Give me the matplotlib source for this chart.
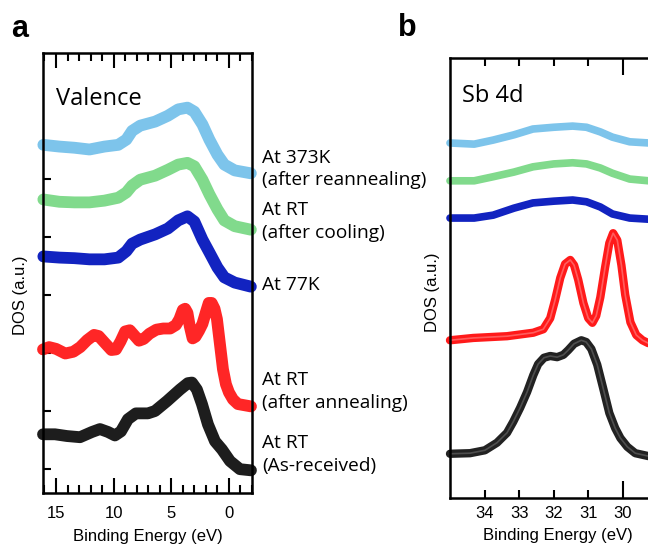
import matplotlib
matplotlib.use('Agg')
import matplotlib.pyplot as plt
from matplotlib.ticker import MultipleLocator, FixedLocator, FormatStrFormatter

# ---- panel a: valence band (binding energy in eV, DOS in a.u. with offsets)
val_e = [16.1, 14.7, 13.4, 12.1, 10.8, 9.6, 8.9, 8.4, 7.7, 6.4, 5.3, 4.4, 3.6, 3.0,
         2.3, 1.7, 1.0, 0.4, -0.5, -1.9]
val_373k = [5.58, 5.55, 5.53, 5.50, 5.55, 5.58, 5.67, 5.82, 5.91, 5.98, 6.08, 6.19,
            6.22, 6.15, 5.93, 5.67, 5.41, 5.24, 5.14, 5.09]
val_cool = [4.64, 4.60, 4.59, 4.59, 4.62, 4.67, 4.76, 4.88, 4.98, 5.05, 5.15, 5.24,
            5.27, 5.21, 4.98, 4.73, 4.47, 4.28, 4.18, 4.12]
val_77k = [3.66, 3.64, 3.63, 3.61, 3.61, 3.64, 3.75, 3.88, 3.95, 4.04, 4.14, 4.28,
           4.35, 4.26, 3.95, 3.73, 3.47, 3.30, 3.21, 3.14]

val_ann_e = [16.13, 15.6, 15.0, 14.2, 13.5, 12.9, 12.3, 11.7, 11.3, 10.8, 10.2, 9.8,
             9.4, 9.0, 8.6, 8.2, 7.8, 7.4, 6.9, 6.3, 5.7, 5.1, 4.6, 4.3, 4.0, 3.8, 3.6,
             3.4, 3.15, 2.9, 2.6, 2.3, 2.0, 1.75, 1.5, 1.25, 1.04, 0.78, 0.52, 0.26,
             0.0, -0.35, -0.78, -1.91]
val_ann = [2.06, 2.10, 2.07, 1.99, 2.02, 2.10, 2.22, 2.31, 2.29, 2.18, 2.05, 2.06,
           2.20, 2.37, 2.39, 2.30, 2.21, 2.24, 2.33, 2.40, 2.42, 2.42, 2.48, 2.58,
           2.74, 2.76, 2.69, 2.46, 2.25, 2.28, 2.38, 2.50, 2.70, 2.86, 2.86, 2.76,
           2.58, 2.15, 1.72, 1.46, 1.32, 1.20, 1.12, 1.08]

val_rec_e = [16.13, 15.09, 14.05, 12.92, 11.88, 11.19, 10.49, 9.89, 9.37, 8.76, 8.07,
             7.03, 6.42, 5.38, 4.25, 3.56, 3.21, 2.78, 2.34, 1.82, 1.21, 0.61, -0.09,
             -0.95, -1.91]
val_rec = [0.60, 0.60, 0.57, 0.55, 0.64, 0.69, 0.64, 0.58, 0.65, 0.86, 0.96, 0.96,
           1.00, 1.17, 1.37, 1.48, 1.49, 1.37, 1.12, 0.77, 0.48, 0.34, 0.14, 0.00, -0.02]

# ---- panel b: Sb 4d core level
sb_e = [35.0, 34.3, 33.75, 33.15, 32.6, 32.0, 31.45, 31.05, 30.65, 30.3, 29.8, 29.25]
sb_373k = [6.10, 6.08, 6.15, 6.24, 6.34, 6.37, 6.39, 6.37, 6.29, 6.20, 6.12, 6.10]
sb_cool = [5.45, 5.45, 5.52, 5.60, 5.69, 5.74, 5.76, 5.74, 5.67, 5.58, 5.48, 5.45]
sb_77k = [4.81, 4.81, 4.86, 4.98, 5.07, 5.10, 5.12, 5.09, 5.00, 4.88, 4.81, 4.79]

sb_ann_e = [35.0, 34.33, 33.35, 32.59, 32.30, 32.10, 31.96, 31.81, 31.67, 31.52, 31.41,
            31.29, 31.14, 31.00, 30.88, 30.77, 30.65, 30.51, 30.39, 30.28, 30.16, 30.04,
            29.93, 29.78, 29.61, 29.43, 29.26]
sb_ann = [2.71, 2.75, 2.78, 2.84, 2.90, 3.09, 3.40, 3.78, 4.02, 4.09, 4.00, 3.75, 3.35,
          3.09, 3.01, 3.13, 3.45, 3.97, 4.38, 4.55, 4.43, 4.00, 3.49, 3.02, 2.80, 2.71, 2.66]

sb_rec_e = [35.0, 34.42, 33.99, 33.64, 33.35, 33.17, 32.97, 32.77, 32.59, 32.45, 32.28,
            32.10, 31.90, 31.72, 31.58, 31.41, 31.20, 31.06, 30.91, 30.74, 30.57, 30.39,
            30.22, 30.07, 29.87, 29.64, 29.26]
sb_rec = [0.76, 0.77, 0.82, 0.95, 1.12, 1.31, 1.55, 1.82, 2.11, 2.30, 2.41, 2.44, 2.42,
          2.46, 2.54, 2.65, 2.71, 2.68, 2.56, 2.29, 1.89, 1.46, 1.20, 1.03, 0.88, 0.77, 0.72]

labels = [['At 373K', '(after reannealing)'], ['At RT', '(after cooling)'], ['At 77K'],
          ['At RT', '(after annealing)'], ['At RT', '(As-received)']]

c_lblue = '#76c1ea'
c_green = '#7ad886'
c_blue = '#0517bd'
c_red = '#ff1a1a'
c_black = '#111111'

txt_font = ['Open Sans', 'DejaVu Sans']
ax_font = ['Liberation Sans', 'DejaVu Sans']
plt.rcParams['font.family'] = ax_font
plt.rcParams['font.size'] = 12

W, H = 648, 544
fig = plt.figure(figsize=(W / 100, H / 100), dpi=100)


def px(x, y):
    return x / W, 1 - y / H


ax = fig.add_axes([43 / W, 1 - 493 / H, 209 / W, 440 / H])
axb = fig.add_axes([450 / W, 1 - 498 / H, 216 / W, 440 / H])

lw_a = 8.5
for e, v, c in [(val_e, val_373k, c_lblue), (val_e, val_cool, c_green),
                (val_e, val_77k, c_blue), (val_ann_e, val_ann, c_red),
                (val_rec_e, val_rec, c_black)]:
    ax.plot(e, v, color=c, lw=lw_a, solid_capstyle='round',
            solid_joinstyle='round', clip_on=False, alpha=0.95)

lw_b = 5.5
for e, v, c in [(sb_e, sb_373k, c_lblue), (sb_e, sb_cool, c_green),
                (sb_e, sb_77k, c_blue)]:
    axb.plot(e, v, color=c, lw=lw_b, solid_capstyle='round',
             solid_joinstyle='round', clip_on=False, alpha=0.95)
for e, v, c, ci in [(sb_ann_e, sb_ann, c_red, '#ff6e6e'),
                    (sb_rec_e, sb_rec, '#222222', '#5a5a5a')]:
    axb.plot(e, v, color=c, lw=6, solid_capstyle='round',
             solid_joinstyle='round', clip_on=False)
    axb.plot(e, v, color=ci, lw=1.2, solid_capstyle='round',
             solid_joinstyle='round', clip_on=False, alpha=0.8)

# axes a
ax.set_xlim(16.13, -2.0)
ax.set_ylim(-0.41, 7.16)
ax.xaxis.set_major_locator(FixedLocator([15, 10, 5, 0]))
ax.xaxis.set_minor_locator(MultipleLocator(1))
ax.set_yticks([0, 1, 2, 3, 4, 5])
ax.set_yticklabels([])
ax.tick_params(axis='x', which='major', direction='in', top=True, length=11,
               width=1.5, pad=9, labelsize=12)
ax.tick_params(axis='x', which='minor', direction='in', top=True, length=5.5,
               width=1.5)
ax.tick_params(axis='y', which='major', direction='in', length=5.5, width=1.5)
ax.set_xlabel('Binding Energy (eV)', fontsize=12, labelpad=6)

# axes b
axb.set_xlim(35.0, 28.75)
axb.set_ylim(0, 7.56)
axb.xaxis.set_major_locator(FixedLocator([30]))
axb.xaxis.set_minor_locator(FixedLocator([31, 32, 33, 34]))
axb.xaxis.set_minor_formatter(FormatStrFormatter('%d'))
axb.set_yticks([])
axb.tick_params(axis='x', which='major', direction='in', top=True, length=12.5,
                width=1.5, pad=6, labelsize=12)
axb.tick_params(axis='x', which='minor', direction='in', top=True, length=6,
                width=1.5, pad=6, labelsize=12)
axb.set_xlabel('Binding Energy (eV)', fontsize=12, labelpad=5)

for a in (ax, axb):
    for s in a.spines.values():
        s.set_linewidth(1.8)

# texts
fig.text(*px(11, 37), 'a', fontsize=22, fontweight='bold', family=ax_font,
         va='baseline', ha='left')
fig.text(*px(398, 36), 'b', fontsize=22, fontweight='bold', family=ax_font,
         va='baseline', ha='left')
fig.text(*px(56, 105), 'Valence', fontsize=17, family=txt_font, va='baseline')
fig.text(*px(462, 102), 'Sb 4d', fontsize=17, family=txt_font, va='baseline')

fig.text(*px(21, 295), 'DOS (a.u.)', rotation=90, fontsize=12, ha='center', va='center')
fig.text(*px(432, 292), 'DOS (a.u.)', rotation=90, fontsize=12, ha='center', va='center')

baselines = [[163, 185], [215, 238], [290], [385, 408], [448, 471]]
for lines, ys in zip(labels, baselines):
    for s, y in zip(lines, ys):
        fig.text(*px(262, y), s, fontsize=13.8, family=txt_font, va='baseline')

fig.savefig('out.png', dpi=100)
